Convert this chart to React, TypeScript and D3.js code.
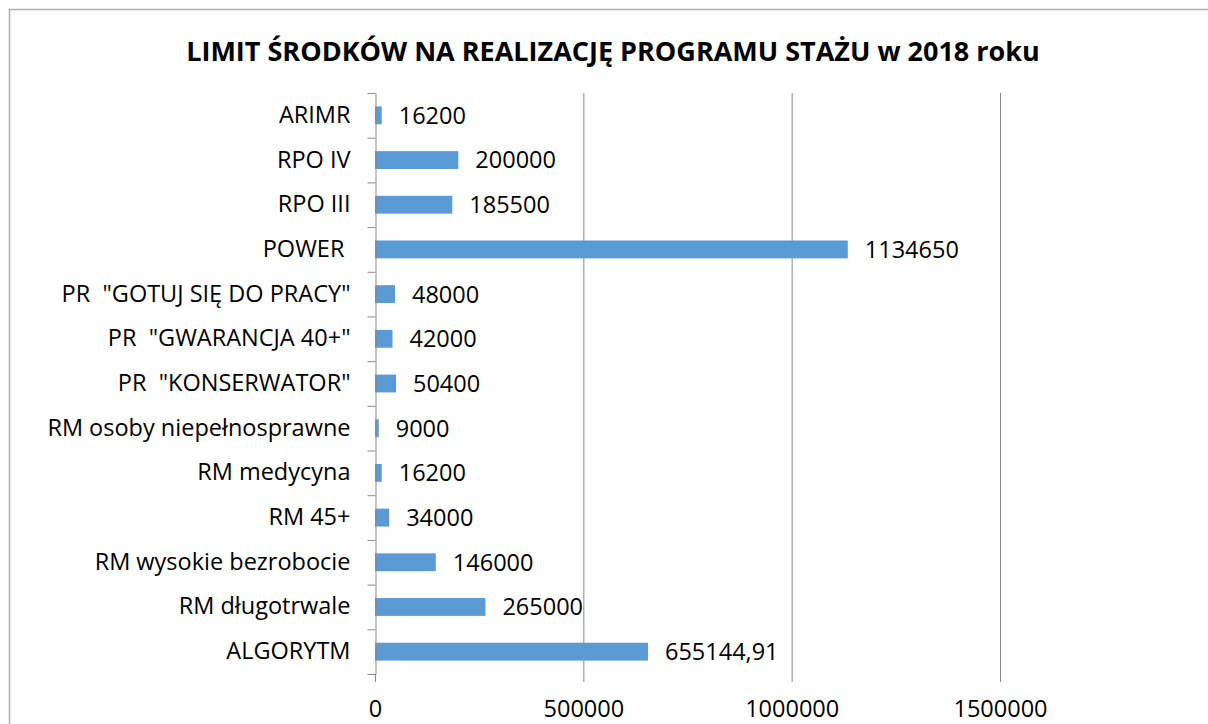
import { useEffect, useRef } from "react";
import { axisBottom, axisLeft, scaleBand, scaleLinear, select, ScaleBand, ScaleLinear } from "d3";

const categories = [
  "ARIMR",
  "RPO IV",
  "RPO III",
  "POWER ",
  'PR  "GOTUJ SIĘ DO PRACY"',
  'PR  "GWARANCJA 40+"',
  'PR  "KONSERWATOR"',
  "RM osoby niepełnosprawne",
  "RM medycyna",
  "RM 45+",
  "RM wysokie bezrobocie",
  "RM długotrwale",
  "ALGORYTM",
];
const values = [16200, 200000, 185500, 1134650, 48000, 42000, 50400, 9000, 16200, 34000, 146000, 265000, 655144.91];
const xTicks = [0, 500000, 1000000, 1500000];
const title = "LIMIT ŚRODKÓW NA REALIZACJĘ PROGRAMU STAŻU w 2018 roku";

const W = 1208;
const H = 724;
const margin = { top: 93, left: 375, right: 208, bottom: 50 };
const font = "'Open Sans', sans-serif";
const fs = 23.5;
const grey = "#898989";

function AxisLeft({ scale }: { scale: ScaleBand<string> }) {
  const ref = useRef<SVGGElement>(null);
  useEffect(() => {
    if (!ref.current) return;
    const g = select(ref.current);
    g.call(axisLeft(scale).tickSize(0).tickPadding(25));
    g.select(".domain").attr("stroke", grey);
    g.selectAll("text")
      .attr("font-family", font)
      .attr("font-size", fs)
      .attr("fill", "#000")
      .style("white-space", "pre");
    // category boundary ticks
    const step = scale.step();
    const start = scale.range()[0];
    g.selectAll(".bound")
      .data(scale.domain().concat([""]))
      .join("line")
      .attr("class", "bound")
      .attr("x1", -8)
      .attr("x2", 0)
      .attr("y1", (_, i) => start + i * step + 0.5)
      .attr("y2", (_, i) => start + i * step + 0.5)
      .attr("stroke", grey);
  }, [scale]);
  return <g ref={ref} />;
}

function AxisBottom({ scale, y }: { scale: ScaleLinear<number, number>; y: number }) {
  const ref = useRef<SVGGElement>(null);
  useEffect(() => {
    if (!ref.current) return;
    const g = select(ref.current);
    g.call(axisBottom(scale).tickValues(xTicks).tickFormat((d) => String(d)).tickSize(8).tickPadding(18));
    g.select(".domain").remove();
    g.selectAll("line").attr("stroke", grey);
    g.selectAll("text").attr("font-family", font).attr("font-size", fs).attr("fill", "#000");
  }, [scale]);
  return <g ref={ref} transform={`translate(0,${y})`} />;
}

export default function App() {
  const x = scaleLinear().domain([0, 1500000]).range([margin.left, W - margin.right]);
  const y = scaleBand<string>().domain(categories).range([margin.top, 674]).paddingInner(0.6).paddingOuter(0.3);
  const yb = scaleBand<string>().domain(categories).range([margin.top, 674]);
  const fmt = (v: number) => String(v).replace(".", ",");

  return (
    <svg width={W} height={H} style={{ position: "absolute", left: 0, top: 0, background: "#fff" }}>
      <rect x={9.5} y={9.5} width={W + 10} height={H + 10} fill="#fff" stroke="#adadad" strokeWidth={1.5} />
      <text x={613} y={61} textAnchor="middle" fontFamily={font} fontWeight="bold" fontSize={27}>
        {title}
      </text>
      {xTicks.slice(1).map((t) => (
        <line key={t} x1={x(t) + 0.5} x2={x(t) + 0.5} y1={margin.top} y2={674} stroke={grey} />
      ))}
      {categories.map((c, i) => (
        <rect key={c} x={x(0)} y={y(c)} width={x(values[i]) - x(0)} height={y.bandwidth()} fill="#5B9BD5" />
      ))}
      {categories.map((c, i) => (
        <text
          key={"l" + c}
          x={x(values[i]) + 17}
          y={(y(c) ?? 0) + y.bandwidth() / 2}
          dy="0.36em"
          fontFamily={font}
          fontSize={fs}
        >
          {fmt(values[i])}
        </text>
      ))}
      <g transform={`translate(${margin.left + 0.5},0)`}>
        <AxisLeft scale={yb} />
      </g>
      <AxisBottom scale={x} y={674} />
    </svg>
  );
}
